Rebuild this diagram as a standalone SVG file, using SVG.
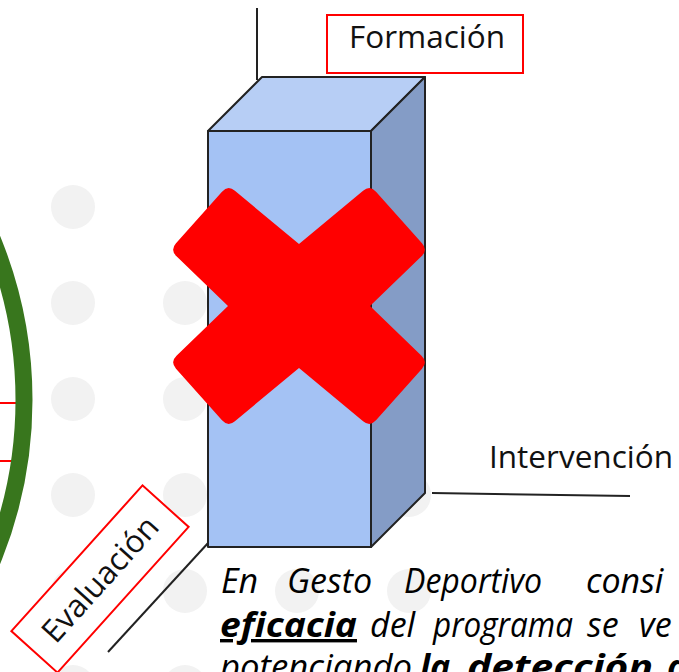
<svg xmlns="http://www.w3.org/2000/svg" width="679" height="672" viewBox="0 0 679 672">
<style>
.dot{fill:#f2f2f2}
.lbl{fill:#fff;stroke:#ff0000;stroke-width:2}
.lt{font-family:"Open Sans","Liberation Sans",sans-serif;font-size:31.5px;fill:#111}
.conn{stroke:#222;stroke-width:2;fill:none}
.face{stroke:#222;stroke-width:2;stroke-linejoin:round}
.body{font-family:"Open Sans","Liberation Sans",sans-serif;font-size:34px;font-style:italic;fill:#000}
.b{font-weight:bold}
</style>
<rect width="679" height="672" fill="#fff"/>
<g id="dots">
<circle class="dot" cx="73" cy="207" r="22"/>
<circle class="dot" cx="73" cy="303" r="22"/><circle class="dot" cx="185" cy="303" r="22"/>
<circle class="dot" cx="73" cy="399" r="22"/><circle class="dot" cx="185" cy="399" r="22"/>
<circle class="dot" cx="73" cy="495" r="22"/><circle class="dot" cx="185" cy="495" r="22"/><circle class="dot" cx="409" cy="495" r="22"/>
<circle class="dot" cx="73" cy="591" r="22"/><circle class="dot" cx="185" cy="591" r="22"/><circle class="dot" cx="297" cy="591" r="22"/><circle class="dot" cx="409" cy="591" r="22"/>
<circle class="dot" cx="73" cy="687" r="22"/><circle class="dot" cx="185" cy="687" r="22"/>
</g>
<g id="left-label">
<rect x="-120" y="403" width="140" height="58" fill="#fff" stroke="#ff0000" stroke-width="2"/>
</g>
<g id="arc">
<circle cx="-399" cy="400" r="423" fill="none" stroke="#38761d" stroke-width="17"/>
</g>
<g id="connectors">
<line class="conn" x1="257" y1="8" x2="257" y2="80"/>
<line class="conn" x1="432" y1="493" x2="630" y2="496"/>
<line class="conn" x1="108" y1="652" x2="209" y2="542"/>
</g>
<g id="box">
<polygon class="face" fill="#b7cef5" points="208,131 262,77 425,77 371,131"/>
<polygon class="face" fill="#849cc6" points="371,131 425,77 425,493 371,547"/>
<rect class="face" fill="#a4c2f4" x="208" y="131" width="163" height="416"/>
</g>
<g id="cross" transform="translate(299,306)">
<path fill="#ff0000" d="M -71 0 L -122.5 49.7 Q -129 56 -123 62.7 L -77 114.3 Q -71 121 -64.1 115.2 L 0 62 L 64.1 115.2 Q 71 121 77 114.3 L 123 62.7 Q 129 56 122.5 49.7 L 71 0 L 122.5 -49.7 Q 129 -56 123 -62.7 L 77 -114.3 Q 71 -121 64.1 -115.2 L 0 -62 L -64.1 -115.2 Q -71 -121 -77 -114.3 L -123 -62.7 Q -129 -56 -122.5 -49.7 Z"/>
</g>
<g id="formacion">
<rect class="lbl" x="327" y="15" width="196" height="58"/>
<text class="lt" x="427" y="48" text-anchor="middle">Formación</text>
</g>
<g id="intervencion">
<text class="lt" x="489" y="468">Intervención</text>
</g>
<g id="evaluacion" transform="translate(100,579) rotate(-48)">
<rect class="lbl" x="-98" y="-31" width="196" height="62"/>
<text class="lt" x="0" y="11" text-anchor="middle">Evaluación</text>
</g>
<g id="body-text">
<text class="body" y="593"><tspan x="221">En</tspan><tspan x="287">Gesto</tspan><tspan x="404" textLength="138" lengthAdjust="spacingAndGlyphs">Deportivo</tspan><tspan x="586">consi</tspan></text>
<text class="body" y="637"><tspan x="220" class="b" text-decoration="underline" textLength="137" lengthAdjust="spacingAndGlyphs">eficacia</tspan><tspan x="370">del</tspan><tspan x="433" textLength="140" lengthAdjust="spacingAndGlyphs">programa</tspan><tspan x="587">se</tspan><tspan x="639">ve</tspan></text>
<text class="body" y="679"><tspan x="220" textLength="192" lengthAdjust="spacingAndGlyphs">potenciando</tspan><tspan x="420" class="b">la</tspan><tspan x="467" class="b" textLength="186" lengthAdjust="spacingAndGlyphs">detección</tspan><tspan x="667" class="b">d</tspan></text>
</g>
</svg>
